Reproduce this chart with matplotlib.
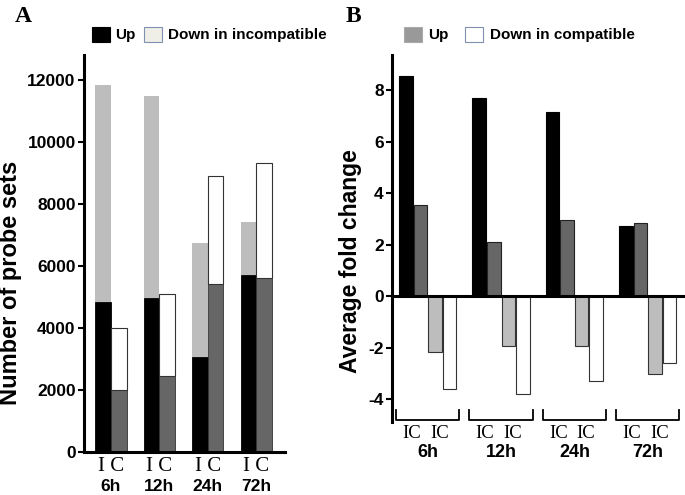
import matplotlib
matplotlib.use("Agg")
import matplotlib.pyplot as plt
from matplotlib.patches import Rectangle
import numpy as np

# panel A: number of probe sets (stacked: up + down)
times = ["6h", "12h", "24h", "72h"]
inc_up = [4830, 4970, 3075, 5700]
inc_down = [7000, 6500, 3675, 1720]
comp_up = [2000, 2450, 5420, 5620]
comp_down = [2000, 2650, 3480, 3700]
yticks_a = [0, 2000, 4000, 6000, 8000, 10000, 12000]

# panel B: average fold change
fc_inc_up = [8.55, 7.68, 7.15, 2.72]
fc_comp_up = [3.53, 2.11, 2.95, 2.85]
fc_inc_down = [-2.16, -1.93, -1.93, -3.04]
fc_comp_down = [-3.62, -3.82, -3.30, -2.60]
yticks_b = [-4, -2, 0, 2, 4, 6, 8]

BLACK = "#000000"
DARK = "#666666"
LIGHT = "#bdbdbd"
WHITE = "#ffffff"
sans = "Liberation Sans"
serif = "Liberation Serif"

fig = plt.figure(figsize=(6.85, 4.95), dpi=100)
W, H = 685, 495

def fax(x0, y0, x1, y1):
    return fig.add_axes([x0 / W, 1 - y1 / H, (x1 - x0) / W, (y1 - y0) / H])

# ---------------- panel A ----------------
ax = fax(84, 55, 285, 452)
x = np.arange(len(times))
w = 0.32
ax.bar(x - w / 2, inc_up, w, color=BLACK, edgecolor=BLACK, linewidth=0.6)
ax.bar(x - w / 2, inc_down, w, bottom=inc_up, color=LIGHT, linewidth=0)
ax.bar(x + w / 2, comp_up, w, color=DARK, edgecolor="#333333", linewidth=0.6)
ax.bar(x + w / 2, comp_down, w, bottom=comp_up, color=WHITE, edgecolor="#333333", linewidth=0.8)
ax.set_xlim(-0.557, 3.59)
ax.set_ylim(0, 12800)
ax.set_yticks(yticks_a)
ax.set_yticklabels([str(t) for t in yticks_a], fontfamily=sans, fontweight="bold", fontsize=12.5)
ax.set_xticks([])
for s in ["top", "right"]:
    ax.spines[s].set_visible(False)
for s in ["left", "bottom"]:
    ax.spines[s].set_linewidth(2.2)
ax.tick_params(axis="y", length=4, width=1.5, pad=2)
ax.set_ylabel("Number of probe sets", fontfamily=sans, fontweight="bold", fontsize=17, va="center")
ax.yaxis.set_label_coords(-0.368, 0.426)
for i, t in enumerate(times):
    ax.text(i, -0.037, "I C", transform=ax.get_xaxis_transform(), ha="center", va="center",
            fontfamily=serif, fontsize=15)
    ax.text(i, -0.086, t, transform=ax.get_xaxis_transform(), ha="center", va="center",
            fontfamily=sans, fontweight="bold", fontsize=12.5)

# ---------------- panel B ----------------
bx = fax(392, 55, 683, 422)
step = 0.198
bw = 0.184
series = [(fc_inc_up, BLACK, BLACK), (fc_comp_up, DARK, "#222222"),
          (fc_inc_down, LIGHT, "#333333"), (fc_comp_down, WHITE, "#333333")]
for k, (vals, col, ec) in enumerate(series):
    bx.bar(x + (k - 1.5) * step, vals, bw, color=col, edgecolor=ec, linewidth=0.8)
bx.set_xlim(-0.486, 3.48)
bx.set_ylim(-4.89, 9.36)
bx.set_yticks(yticks_b)
bx.set_yticklabels([str(t) for t in yticks_b], fontfamily=sans, fontweight="bold", fontsize=12.5)
bx.set_xticks([])
for s in ["top", "right"]:
    bx.spines[s].set_visible(False)
bx.spines["bottom"].set_position(("data", 0))
for s in ["left", "bottom"]:
    bx.spines[s].set_linewidth(2.2)
bx.tick_params(axis="y", length=4, width=1.5, pad=2)
bx.set_ylabel("Average fold change", fontfamily=sans, fontweight="bold", fontsize=16.5, va="center")
bx.yaxis.set_label_coords(-0.144, 0.439)
for i, t in enumerate(times):
    xl, xr = i - 0.43, i + 0.43
    bx.plot([xl, xl, xr, xr], [-4.43, -4.8, -4.8, -4.43], color=BLACK, lw=1.3, clip_on=False)
    bx.text(i - 0.22, -0.030, "IC", transform=bx.get_xaxis_transform(), ha="center", va="center",
            fontfamily=serif, fontsize=13.5)
    bx.text(i + 0.16, -0.030, "IC", transform=bx.get_xaxis_transform(), ha="center", va="center",
            fontfamily=serif, fontsize=13.5)
    bx.text(i, -0.084, t, transform=bx.get_xaxis_transform(), ha="center", va="center",
            fontfamily=sans, fontweight="bold", fontsize=13)

# ---------------- legends and panel letters ----------------
def legend_box(x0, col, ec):
    fig.patches.append(Rectangle((x0 / W, 1 - 42 / H), 18 / W, 15 / H, transform=fig.transFigure,
                                 facecolor=col, edgecolor=ec, linewidth=0.8))

legend_box(92, BLACK, BLACK)
fig.text(115 / W, 1 - 35 / H, "Up", fontfamily=sans, fontweight="bold", fontsize=11, va="center")
legend_box(144, "#efefe8", "#8090b0")
fig.text(168 / W, 1 - 35 / H, "Down in incompatible", fontfamily=sans, fontweight="bold", fontsize=11, va="center")
legend_box(404, "#999999", "#aaaaaa")
fig.text(428 / W, 1 - 35 / H, "Up", fontfamily=sans, fontweight="bold", fontsize=11, va="center")
legend_box(465, WHITE, "#8090b0")
fig.text(490 / W, 1 - 35 / H, "Down in compatible", fontfamily=sans, fontweight="bold", fontsize=11, va="center")

fig.text(15 / W, 1 - 16 / H, "A", fontfamily=serif, fontweight="bold", fontsize=17, va="center")
fig.text(346 / W, 1 - 16 / H, "B", fontfamily=serif, fontweight="bold", fontsize=17, va="center")

fig.savefig("out.png", dpi=100)
